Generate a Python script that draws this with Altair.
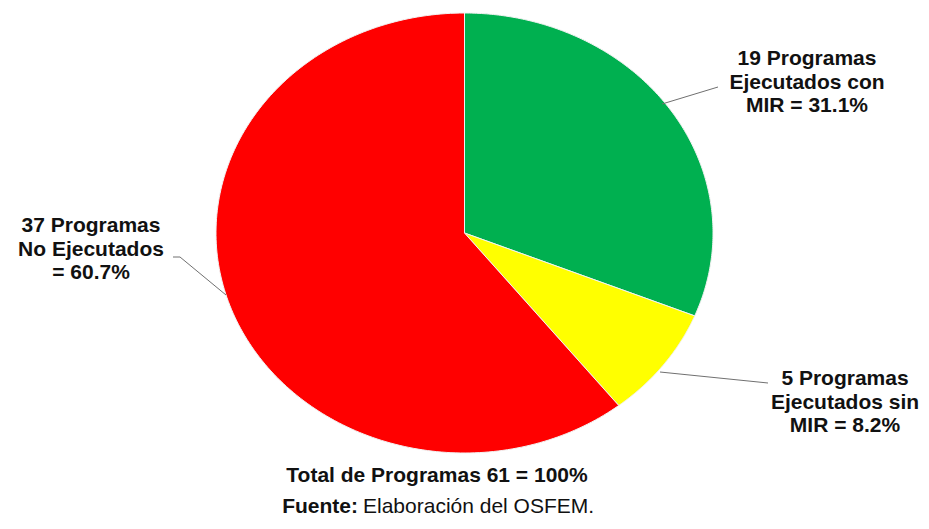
import altair as alt
import pandas as pd

# ---- data ----
categories = ["Ejecutados con MIR", "Ejecutados sin MIR", "No Ejecutados"]
values = [19, 5, 37]
colors = ["#00B050", "#FFFF00", "#FF0000"]
label_green = ["19 Programas", "Ejecutados con", "MIR = 31.1%"]
label_yellow = ["5 Programas", "Ejecutados sin", "MIR = 8.2%"]
label_red = ["37 Programas", "No Ejecutados", "= 60.7%"]
total_text = "Total de Programas 61 = 100%"
source_bold = "Fuente:"
source_text = "Elaboración del OSFEM."

W, H = 913, 513
FONT = "Liberation Sans"

df = pd.DataFrame({"cat": categories, "value": values, "ord": list(range(len(values)))})

# ellipse geometry (screen pixels)
N = 200
CX, CY, RX, RY = 464.5, 233.0, 248.5, 220.0

xs = alt.Scale(domain=[8, 8 + W], nice=False, zero=False)
ys = alt.Scale(domain=[8, 8 + H], nice=False, zero=False, reverse=True)

pie = (
    alt.Chart(df)
    .transform_joinaggregate(total="sum(value)")
    .transform_window(cum="sum(value)", sort=[alt.SortField("ord")], frame=[None, 0])
    .transform_calculate(
        a0="2*PI*(datum.cum - datum.value)/datum.total",
        a1="2*PI*datum.cum/datum.total",
        pts=f"sequence(0, {N + 3})",
    )
    .transform_flatten(["pts"])
    .transform_calculate(
        th=f"datum.a0 + (datum.a1 - datum.a0)*clamp((datum.pts-1)/{N},0,1)",
        center=f"datum.pts == 0 || datum.pts == {N + 2}",
    )
    .transform_calculate(
        px=f"datum.center ? {CX} : {CX} + {RX}*sin(datum.th)",
        py=f"datum.center ? {CY} : {CY} - {RY}*cos(datum.th)",
    )
    .mark_line(filled=True, stroke="#f2f2f2", strokeWidth=1, interpolate="linear")
    .encode(
        x=alt.X("px:Q", scale=xs, axis=None),
        y=alt.Y("py:Q", scale=ys, axis=None),
        color=alt.Color("cat:N", scale=alt.Scale(domain=categories, range=colors), legend=None),
        detail="cat:N",
        order=alt.Order("pts:Q"),
    )
)

one = pd.DataFrame({"k": [0]})


def sx(v):
    return v - 8


def label(lines, x, y):
    return alt.Chart(one).mark_text(
        text=lines, font=FONT, fontSize=21, fontWeight="bold", align="center",
        baseline="alphabetic", lineHeight=23.5, color="#111111",
    ).encode(x=alt.value(sx(x)), y=alt.value(sx(y)))


def seg(x1, y1, x2, y2):
    return alt.Chart(one).mark_rule(color="#707070", strokeWidth=1).encode(
        x=alt.value(sx(x1)), y=alt.value(sx(y1)), x2=alt.value(sx(x2)), y2=alt.value(sx(y2))
    )


leaders = [
    seg(662, 104, 718, 87),
    seg(173, 257, 180, 257),
    seg(180, 257, 226, 295),
    seg(660, 372, 768, 383),
]

texts = [
    label(label_green, 807, 65),
    label(label_red, 91, 232),
    label(label_yellow, 845, 385),
    alt.Chart(one).mark_text(text=total_text, font=FONT, fontSize=21, fontWeight="bold",
                             align="center", baseline="alphabetic", color="#111111")
    .encode(x=alt.value(sx(437)), y=alt.value(sx(482))),
    alt.Chart(one).mark_text(text=source_bold, font=FONT, fontSize=21, fontWeight="bold",
                             align="right", baseline="alphabetic", color="#111111")
    .encode(x=alt.value(sx(358)), y=alt.value(sx(513))),
    alt.Chart(one).mark_text(text=source_text, font=FONT, fontSize=21, fontWeight="normal",
                             align="left", baseline="alphabetic", color="#111111")
    .encode(x=alt.value(sx(363)), y=alt.value(sx(513))),
]

chart = alt.layer(pie, *leaders, *texts).properties(
    width=W, height=H, padding=0,
    autosize=alt.AutoSizeParams(type="fit", contains="padding"),
).configure_view(stroke=None)

chart.save("out.html", embed_options={"renderer": "svg", "actions": False})
